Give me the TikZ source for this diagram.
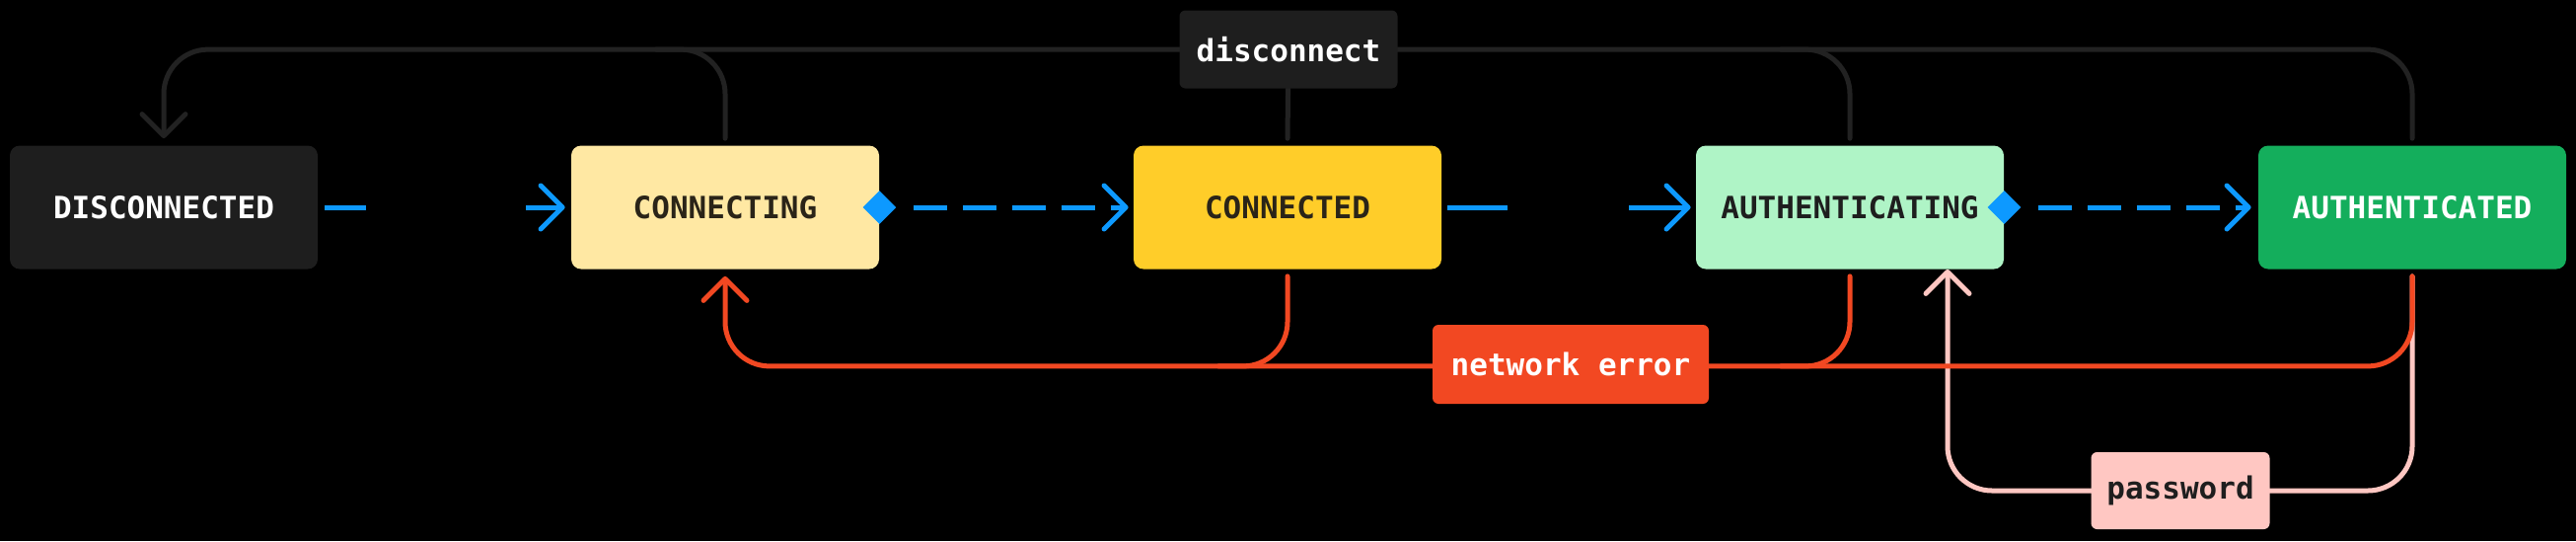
\documentclass[tikz,border=0pt]{standalone}
\usepackage{fontspec}
\newfontfamily\monofam{DejaVu Sans Mono}
\usetikzlibrary{arrows.meta,calc,shapes.geometric}
\definecolor{cDis}{HTML}{1E1E1E}
\definecolor{cCing}{HTML}{FFE8A3}
\definecolor{cCed}{HTML}{FFCD29}
\definecolor{cAing}{HTML}{AFF4C6}
\definecolor{cAed}{HTML}{14AE5C}
\definecolor{cBlue}{HTML}{0D99FF}
\definecolor{cRed}{HTML}{F24822}
\definecolor{cPink}{HTML}{FFC7C2}
\definecolor{cLine}{HTML}{222222}
\definecolor{cDark}{HTML}{2A2418}
\pgfdeclarelayer{bg}
\pgfdeclarelayer{edges}
\pgfsetlayers{bg,edges,main}
\tikzset{
  x=0.5pt, y=-0.5pt,
  txt/.style={font=\monofam\bfseries\fontsize{15.5}{18}\selectfont},
  state/.style={txt, rectangle, rounded corners=5pt, minimum width=156pt, minimum height=62.5pt, inner sep=0pt},
  lbl/.style={txt, rectangle, rounded corners=3pt, inner sep=0pt},
  tipx/.tip={Straight Barb[length=11pt, width=22pt, round]},
  wire/.style={line width=2.5pt, line cap=round},
  bl/.style={wire, draw=cBlue, line cap=butt},
  blk/.style={wire, draw=cLine, rounded corners=22.5pt},
  rd/.style={wire, draw=cRed, rounded corners=22.5pt},
  pk/.style={wire, draw=cPink, rounded corners=22.5pt},
  dmd/.style={diamond, fill=cBlue, minimum width=17pt, minimum height=17pt, inner sep=0pt},
}
\begin{document}
\begin{tikzpicture}
\begin{pgfonlayer}{bg}
\fill[black] (0,0) rectangle (2611,548);
\end{pgfonlayer}
\useasboundingbox (0,0) rectangle (2611,548);

% states
\node[state, fill=cDis, text=white] (dis) at (166,210) {DISCONNECTED};
\node[state, fill=cCing, text=cDark] (cing) at (735,210) {CONNECTING};
\node[state, fill=cCed, text=cDark] (ced) at (1305,210) {CONNECTED};
\node[state, fill=cAing, text=cDis] (aing) at (1875,210) {AUTHENTICATING};
\node[state, fill=cAed, text=white] (aed) at (2445,210) {AUTHENTICATED};

% labels
\node[lbl, fill=cDis, text=white, minimum width=110.5pt, minimum height=39.5pt] (disc) at (1306,50) {disconnect};
\node[lbl, fill=cRed, text=white, minimum width=140pt, minimum height=40pt] (neterr) at (1592,369) {network error};
\node[lbl, fill=cPink, text=cDis, minimum width=90.5pt, minimum height=39pt] (pwd) at (2210,497) {password};

% diamonds
\node[dmd] (d1) at (cing.east) {};
\node[dmd] (d2) at (aing.east) {};

\begin{pgfonlayer}{edges}
% blue transitions
\draw[bl, dash pattern=on 21pt off 81pt, -{tipx}] ($(dis.east)+(7,0)$) -- ($(cing.west)+(-6,0)$);
\draw[bl, dash pattern=on 30.5pt off 61.5pt, -{tipx}] ($(ced.east)+(6,0)$) -- ($(aing.west)+(-5,0)$);
\draw[bl, dash pattern=on 17pt off 8pt, -{tipx}] ($(d1.east)+(17,0)$) -- ($(ced.west)+(-5,0)$);
\draw[bl, dash pattern=on 17pt off 8pt, -{tipx}] ($(d2.east)+(17,0)$) -- ($(aed.west)+(-7,0)$);

% disconnect bus
\draw[blk, -{tipx}] ($(aed.north)+(0,-7)$) |- ($(dis.north)+(0,-97)$) -- ($(dis.north)+(0,-7)$);
\draw[blk] ($(aing.north)+(0,-7)$) |- ($(aing.north)+(-70,-97)$);
\draw[blk] ($(cing.north)+(0,-7)$) |- ($(cing.north)+(-70,-97)$);
\draw[blk] (disc) -- ($(ced.north)+(0,-7)$);

% password
\draw[pk, -{tipx}] ($(aed.south)+(0,7)$) |- (pwd.center) -| ($(aing.south)+(99,0)$);

% network error
\draw[rd, -{tipx}] ($(aed.south)+(0,7)$) |- ($(cing.south)+(0,98)$) -- ($(cing.south)+(0,7)$);
\draw[rd] ($(aing.south)+(0,7)$) |- ($(aing.south)+(-70,98)$);
\draw[rd] ($(ced.south)+(0,7)$) |- ($(ced.south)+(-70,98)$);
\end{pgfonlayer}
\end{tikzpicture}
\end{document}
